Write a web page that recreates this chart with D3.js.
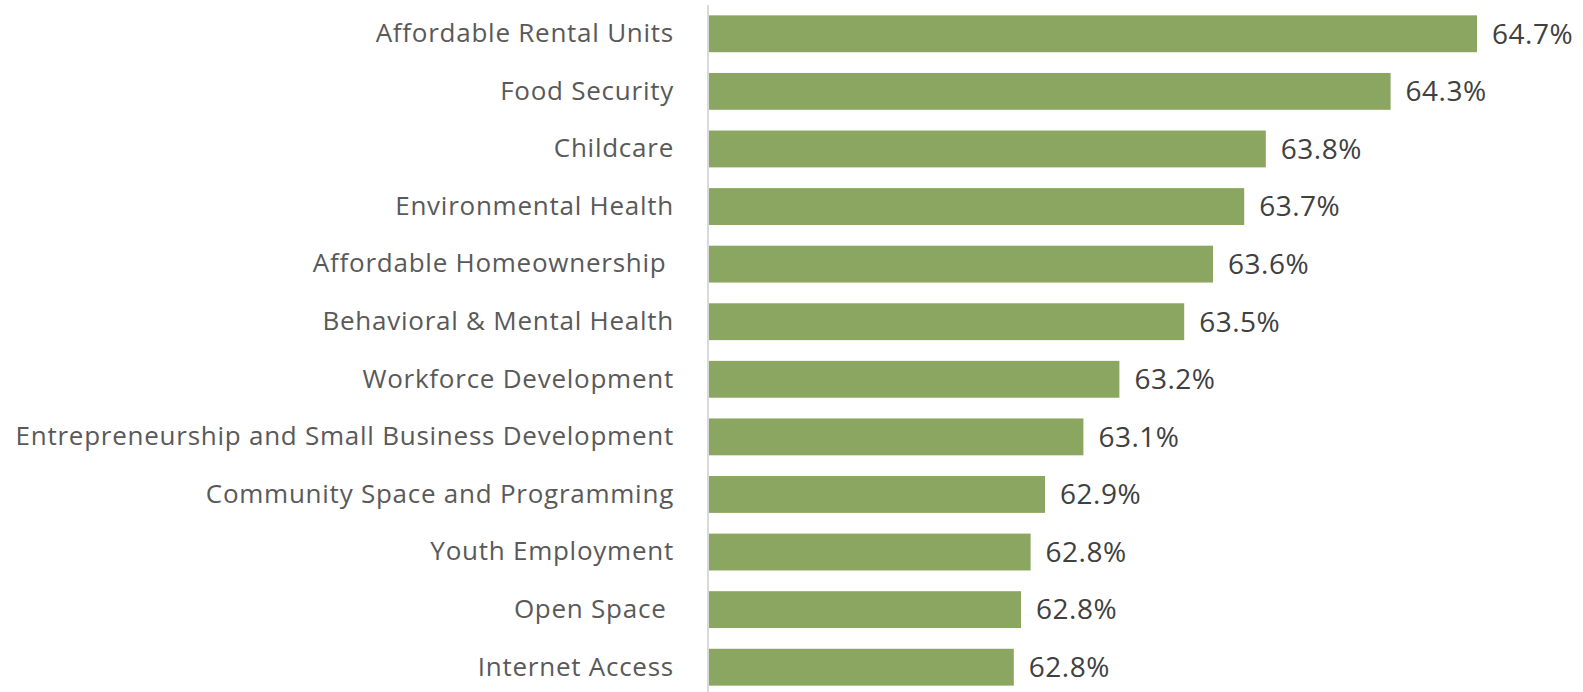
<!DOCTYPE html>
<html>
<head>
<meta charset="utf-8">
<script src="https://cdn.jsdelivr.net/npm/d3@7"></script>
<style>
  html, body { margin: 0; padding: 0; background: #fff; }
  svg text { font-family: "Open Sans", "Noto Sans", sans-serif; }
</style>
</head>
<body>
<div id="chart"></div>
<script>
// Categories, top to bottom
const categories = [
  "Affordable Rental Units",
  "Food Security",
  "Childcare",
  "Environmental Health",
  "Affordable Homeownership ",
  "Behavioral & Mental Health",
  "Workforce Development",
  "Entrepreneurship and Small Business Development",
  "Community Space and Programming",
  "Youth Employment",
  "Open Space ",
  "Internet Access"
];

// Share of respondents (%)
const values = [64.70, 64.34, 63.82, 63.73, 63.60, 63.48, 63.21, 63.06, 62.90, 62.84, 62.80, 62.77];

const axisMin = 61.5;
const axisMax = 65;

const width = 1583, height = 692;
const margin = { top: 5, bottom: -4, left: 709, right: 34 };

const svg = d3.select("#chart").append("svg")
  .attr("width", width)
  .attr("height", height);

const data = categories.map((c, i) => ({ cat: c, val: values[i] }));

const xScale = d3.scaleLinear()
  .domain([axisMin, axisMax])
  .range([margin.left, width - margin.right]);

const yScale = d3.scaleBand()
  .domain(categories)
  .range([margin.top, height - margin.bottom])
  .paddingInner(0.36)
  .paddingOuter(0.18);

// bars
svg.append("g").selectAll("rect")
  .data(data)
  .enter()
  .append("rect")
  .attr("x", xScale(axisMin))
  .attr("y", d => yScale(d.cat))
  .attr("width", d => xScale(d.val) - xScale(axisMin))
  .attr("height", yScale.bandwidth())
  .attr("fill", "#8ba660");

// vertical axis line + category labels
const yAxis = d3.axisLeft(yScale).tickSize(0).tickPadding(34);
const axisG = svg.append("g")
  .attr("transform", `translate(${xScale(axisMin) - 1},0)`)
  .call(yAxis);
axisG.select(".domain")
  .attr("d", `M0,${margin.top}V${height}`)
  .attr("stroke", "#d9d9d9")
  .attr("stroke-width", 2);
axisG.selectAll("text")
  .attr("fill", "#595959")
  .attr("font-size", 26)
  .style("letter-spacing", "0.75px")
  .style("white-space", "pre")
  .style("font-family", "'Open Sans', sans-serif");

// value labels
svg.append("g").selectAll("text")
  .data(data)
  .enter()
  .append("text")
  .attr("x", d => xScale(d.val) + 15)
  .attr("y", d => yScale(d.cat) + yScale.bandwidth() / 2)
  .attr("dy", "0.35em")
  .attr("fill", "#404040")
  .attr("font-size", 28)
  .style("letter-spacing", "0.5px")
  .text(d => d3.format(".1f")(d.val) + "%");
</script>
</body>
</html>
